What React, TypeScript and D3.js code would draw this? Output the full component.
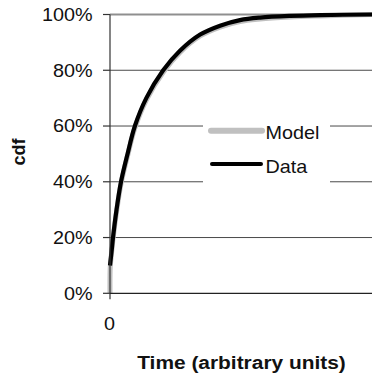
import React from "react";
import * as d3 from "d3";

const W = 372;
const H = 373;

// Y ticks (cdf, %)
const yTicks = [0, 20, 40, 60, 80, 100];
const xTickLabels = ["0"];

// Data series (time in arbitrary units, cdf in %)
const dataTimes = [0, 0.6, 1.15, 2.5, 4.2, 6.7, 9.5, 13.85, 20.3, 26.7, 34.4, 42, 49.6, 57.3, 68.7, 80.2, 100];
const dataValues = [10, 15, 20, 30, 40, 50, 60, 70, 80, 87, 92.8, 96, 98, 98.9, 99.5, 99.8, 100];

// Model series
const modelTimes = [0, 0.1, 0.6, 1.15, 2.5, 4.2, 6.7, 9.5, 13.85, 20.3, 26.7, 34.4, 42, 49.6, 57.3, 68.7, 80.2, 100];
const modelValues = [0, 9.5, 14.5, 19.5, 29.3, 39.3, 49.3, 59.3, 69.3, 79.3, 86.4, 92.3, 95.5, 97.5, 98.4, 99.1, 99.5, 100];

const seriesNames = ["Model", "Data"];

const FONT = "Arial, 'Liberation Sans', sans-serif";

export default function App() {
  const x = d3.scaleLinear().domain([0, 100]).range([110, 372]);
  const y = d3.scaleLinear().domain([0, 100]).range([293.3, 14.5]);

  const line = d3
    .line<[number, number]>()
    .x((d) => x(d[0]))
    .y((d) => y(d[1]))
    .curve(d3.curveCatmullRom.alpha(0.5));

  const dataPts: [number, number][] = dataTimes.map((t, i) => [t, dataValues[i]]);
  const modelPts: [number, number][] = modelTimes.map((t, i) => [t, modelValues[i]]);

  const sx = 1.1;

  return (
    <svg
      width={W}
      height={H}
      style={{ position: "absolute", left: 0, top: 0, background: "#fff" }}
      fontFamily={FONT}
    >
      <rect x={0} y={0} width={W} height={H} fill="#fff" />
      {/* gridlines */}
      {yTicks.map((t) =>
        t === 0 ? null : (
          <line
            key={t}
            x1={x(0)}
            x2={W}
            y1={y(t)}
            y2={y(t)}
            stroke={t === 100 ? "#8f8f8f" : "#4a4a4a"}
            strokeWidth={t === 100 ? 2 : 1}
          />
        )
      )}
      {/* series */}
      <path d={line(modelPts) || ""} fill="none" stroke="#c0c0c0" strokeWidth={5} />
      <path d={line(dataPts) || ""} fill="none" stroke="#000" strokeWidth={4.2} />

      {/* legend */}
      <rect x={203} y={112} width={127} height={76} fill="#fff" />
      <line x1={211} x2={262} y1={130.7} y2={130.7} stroke="#c0c0c0" strokeWidth={6} strokeLinecap="round" />
      <line x1={212} x2={261} y1={164} y2={164} stroke="#000" strokeWidth={4} strokeLinecap="round" />
      <text transform={`translate(265.5,139.3) scale(${sx},1)`} fontSize={18} fill="#111">
        {seriesNames[0]}
      </text>
      <text transform={`translate(265.5,173.3) scale(${sx},1)`} fontSize={18} fill="#111">
        {seriesNames[1]}
      </text>

      {/* axes */}
      <line x1={x(0)} x2={x(0)} y1={y(100)} y2={y(0) + 6} stroke="#333" strokeWidth={1.2} />
      <line x1={x(0)} x2={W} y1={y(0)} y2={y(0)} stroke="#222" strokeWidth={1.3} />
      {yTicks.map((t) => (
        <g key={"yt" + t}>
          <line x1={x(0) - 7} x2={x(0)} y1={y(t)} y2={y(t)} stroke="#333" strokeWidth={1.2} />
          <text
            transform={`translate(92.5,${y(t) + 6.3}) scale(${sx},1)`}
            fontSize={18}
            textAnchor="end"
            fill="#111"
          >
            {t + "%"}
          </text>
        </g>
      ))}
      {xTickLabels.map((l) => (
        <text
          key={l}
          transform={`translate(${x(+l) - 0.5},330) scale(${sx},1)`}
          fontSize={18}
          textAnchor="middle"
          fill="#111"
        >
          {l}
        </text>
      ))}

      {/* axis titles */}
      <text
        transform={`translate(25,152) rotate(-90)`}
        fontSize={18}
        fontWeight="bold"
        textAnchor="middle"
        fill="#111"
      >
        cdf
      </text>
      <text
        transform={`translate(241.5,369) scale(${sx},1)`}
        fontSize={19}
        fontWeight="bold"
        textAnchor="middle"
        fill="#111"
      >
        Time (arbitrary units)
      </text>
    </svg>
  );
}
